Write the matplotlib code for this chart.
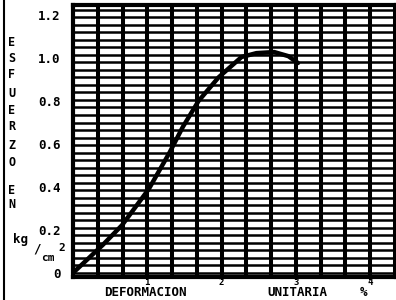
import numpy as np
import matplotlib
matplotlib.use("Agg")
import matplotlib.pyplot as plt

# curve
strain = [0.0, 0.40, 0.66, 1.02, 1.30, 1.48, 1.69, 1.96, 2.27, 2.47, 2.71, 2.90, 3.03]
stress = [0.0, 0.13, 0.222, 0.39, 0.56, 0.68, 0.80, 0.91, 1.005, 1.023, 1.028, 1.009, 0.977]

x_ticks = [1, 2, 3, 4]
y_ticks = [0, 0.2, 0.4, 0.6, 0.8, 1.0, 1.2]
y_ticklabels = ["0", "0.2", "0.4", "0.6", "0.8", "1.0", "1.2"]

plt.rcParams['font.family'] = ['DejaVu Sans Mono', 'DejaVu Sans']
plt.rcParams['font.weight'] = 'bold'

fig = plt.figure(figsize=(3.96, 3.0), dpi=100)
ax = fig.add_axes([73/396, 1-277/300, 1-73/396, 272/300])

ax.set_xlim(0, 4.35)
ax.set_ylim(-0.019, 1.247)

# graph paper
for gx in np.arange(1, 14) / 3:
    ax.axvline(gx, color='black', lw=2.9, zorder=1)
for gy in np.arange(0, 36) * 0.035:
    ax.axhline(gy, color='black', lw=1.8, zorder=1)

ax.plot(strain, stress, color='black', lw=3.2, solid_capstyle='round',
        solid_joinstyle='round', zorder=3)

ax.set_xticks(x_ticks)
ax.set_xticklabels([str(t) for t in x_ticks], fontsize=6.5, fontweight='bold')
ax.set_yticks(y_ticks)
ax.set_yticklabels(y_ticklabels, fontsize=9, fontweight='bold')
ax.tick_params(axis='x', length=2, width=1.5, pad=-1)
ax.tick_params(axis='y', length=0, pad=9)

for s in ax.spines.values():
    s.set_linewidth(3)

# axis titles
fig.text(145/396, 1-293/300, "DEFORMACION", ha='center', va='center', fontsize=9, fontweight='bold')
fig.text(297/396, 1-293/300, "UNITARIA", ha='center', va='center', fontsize=9, fontweight='bold')
fig.text(364/396, 1-293/300, "%", ha='center', va='center', fontsize=9, fontweight='bold')

letters = ["E", "S", "F", "U", "E", "R", "Z", "O", "E", "N"]
ys = [43, 58, 74, 93, 111, 127, 145, 163, 190, 205]
for ch, yy in zip(letters, ys):
    fig.text(12/396, 1-yy/300, ch, ha='center', va='center', fontsize=8.5, fontweight='bold')

fig.text(20/396, 1-240/300, "kg", ha='center', va='center', fontsize=9, fontweight='bold')
fig.text(37/396, 1-249/300, "/", ha='center', va='center', fontsize=9, fontweight='bold')
fig.text(48/396, 1-258/300, "cm", ha='center', va='center', fontsize=8, fontweight='bold')
fig.text(62/396, 1-248/300, "2", ha='center', va='center', fontsize=8, fontweight='bold')

# scan border on the left
fig.add_artist(plt.Line2D([4/396, 4/396], [0, 1], color='black', lw=1.5))

fig.savefig("out.png", dpi=100)
